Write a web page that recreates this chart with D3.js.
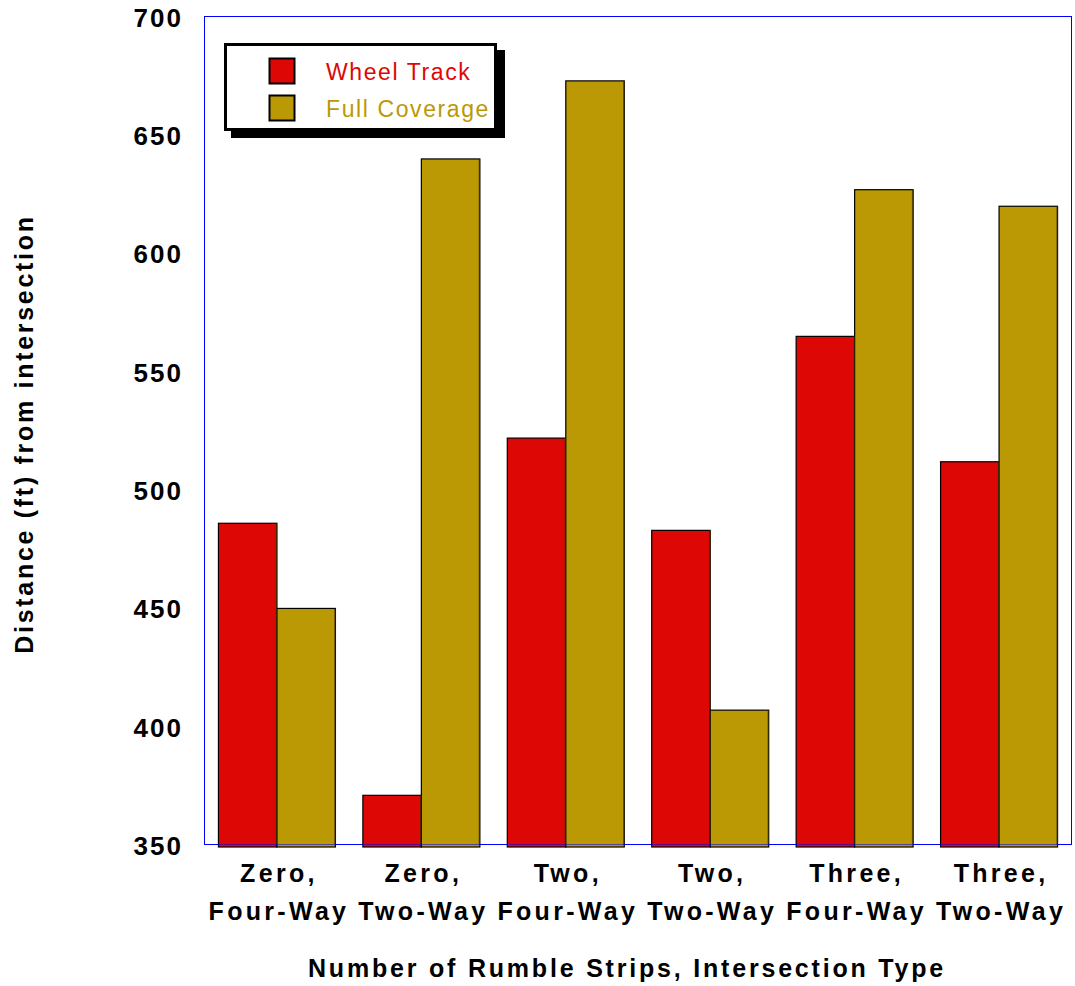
<!DOCTYPE html>
<html>
<head>
<meta charset="utf-8">
<script src="https://cdn.jsdelivr.net/npm/d3@7"></script>
<style>
  html, body { margin: 0; padding: 0; background: #fff; }
  svg { display: block; font-family: "Liberation Sans", Arial, sans-serif; }
</style>
</head>
<body>
<svg id="chart" width="1075" height="986"></svg>
<script>
// Categories: number of rumble strips, intersection type (two text lines each)
const categories = ["Zero, Four-Way", "Zero, Two-Way", "Two, Four-Way", "Two, Two-Way", "Three, Four-Way", "Three, Two-Way"];
const categoryLines = [["Zero,", "Four-Way"], ["Zero,", "Two-Way"], ["Two,", "Four-Way"], ["Two,", "Two-Way"], ["Three,", "Four-Way"], ["Three,", "Two-Way"]];
const seriesNames = ["Wheel Track", "Full Coverage"];
const wheelTrack = [486, 371, 522, 483, 565, 512];
const fullCoverage = [450, 640, 673, 407, 627, 620];
const yTicks = [350, 400, 450, 500, 550, 600, 650, 700];

const colors = { "Wheel Track": "#DD0806", "Full Coverage": "#BB9905" };

const svg = d3.select("#chart");
const plot = { left: 204, right: 1072, top: 17, bottom: 845 };

const x = d3.scaleBand()
  .domain(categories)
  .range([plot.left, plot.right])
  .paddingInner(0.19)
  .paddingOuter(0.1);

const xs = d3.scaleBand()
  .domain(seriesNames)
  .range([0, x.bandwidth()]);

const y = d3.scaleLinear().domain([350, 700]).range([plot.bottom, plot.top]);

const rows = categories.map((c, i) => ({
  cat: c,
  values: [
    { name: "Wheel Track", value: wheelTrack[i] },
    { name: "Full Coverage", value: fullCoverage[i] }
  ]
}));

// Plot frame
svg.append("rect")
  .attr("x", plot.left + 0.5)
  .attr("y", plot.top - 0.5)
  .attr("width", plot.right - plot.left - 1)
  .attr("height", plot.bottom - plot.top)
  .attr("fill", "none")
  .attr("stroke", "#0000ff")
  .attr("stroke-width", 1);

// Bars
const groups = svg.append("g").selectAll("g")
  .data(rows).join("g")
  .attr("transform", d => `translate(${x(d.cat)},0)`);

groups.selectAll("rect.bar")
  .data(d => d.values).join("rect")
  .attr("class", "bar")
  .attr("x", d => xs(d.name))
  .attr("y", d => y(d.value))
  .attr("width", xs.bandwidth())
  .attr("height", d => y(350) - y(d.value) + 2)
  .attr("fill", d => colors[d.name])
  .attr("stroke", "#000")
  .attr("stroke-width", 1.2);

// dark right edge on each bar
groups.selectAll("line.edge")
  .data(d => d.values).join("line")
  .attr("class", "edge")
  .attr("x1", d => xs(d.name) + xs.bandwidth() - 0.5)
  .attr("x2", d => xs(d.name) + xs.bandwidth() - 0.5)
  .attr("y1", d => y(d.value))
  .attr("y2", y(350))
  .attr("stroke", "#4a3a00")
  .attr("stroke-opacity", 0.6)
  .attr("stroke-width", 1.5);

// bottom frame line drawn over the bars, translucent
svg.append("line")
  .attr("x1", plot.left).attr("x2", plot.right)
  .attr("y1", plot.bottom - 0.5).attr("y2", plot.bottom - 0.5)
  .attr("stroke", "#0000ff").attr("stroke-opacity", 0.55);

// Y axis tick labels
const yAxis = d3.axisLeft(y).tickValues(yTicks).tickSize(0).tickPadding(0).tickFormat(d3.format("d"));
const yg = svg.append("g").attr("transform", `translate(${183},0)`).call(yAxis);
yg.select(".domain").remove();
yg.selectAll("text")
  .attr("font-family", "Liberation Sans, Arial, sans-serif")
  .attr("font-size", 26)
  .attr("font-weight", "bold")
  .attr("letter-spacing", 2)
  .attr("fill", "#000")
  .attr("dy", "0.36em");

// X axis category labels
const xAxis = d3.axisBottom(x).tickSize(0).tickFormat(() => "");
const xg = svg.append("g").attr("transform", `translate(0,${plot.bottom})`).call(xAxis);
xg.select(".domain").remove();
xg.selectAll(".tick").each(function(d, i) {
  const t = d3.select(this).append("text")
    .attr("text-anchor", "middle")
    .attr("font-family", "Liberation Sans, Arial, sans-serif")
    .attr("font-size", 25)
    .attr("font-weight", "bold")
    .attr("letter-spacing", 3.3)
    .attr("fill", "#000");
  categoryLines[i].forEach((line, k) => {
    t.append("tspan").attr("x", 2).attr("y", 37 + k * 38).text(line);
  });
});

// Axis titles
svg.append("text")
  .attr("x", 627)
  .attr("y", 977)
  .attr("text-anchor", "middle")
  .attr("font-size", 25)
  .attr("font-weight", "bold")
  .attr("letter-spacing", 2.8)
  .text("Number of Rumble Strips, Intersection Type");

svg.append("text")
  .attr("transform", "translate(33,434) rotate(-90)")
  .attr("text-anchor", "middle")
  .attr("font-size", 25)
  .attr("font-weight", "bold")
  .attr("letter-spacing", 2.7)
  .text("Distance (ft) from intersection");

// Legend with drop shadow
const legend = svg.append("g");
legend.append("rect")
  .attr("x", 231).attr("y", 50).attr("width", 274).attr("height", 88)
  .attr("fill", "#000");
legend.append("rect")
  .attr("x", 225.5).attr("y", 44.5).attr("width", 270).attr("height", 85)
  .attr("fill", "#fff").attr("stroke", "#000").attr("stroke-width", 3);

seriesNames.forEach((name, i) => {
  legend.append("rect")
    .attr("x", 269.5).attr("y", 58.5 + i * 37)
    .attr("width", 25).attr("height", 25)
    .attr("fill", colors[name]).attr("stroke", "#000").attr("stroke-width", 2);
  legend.append("text")
    .attr("x", 326).attr("y", 80 + i * 37)
    .attr("font-size", 23)
    .attr("letter-spacing", 1.6)
    .attr("fill", colors[name])
    .text(name);
});
</script>
</body>
</html>
